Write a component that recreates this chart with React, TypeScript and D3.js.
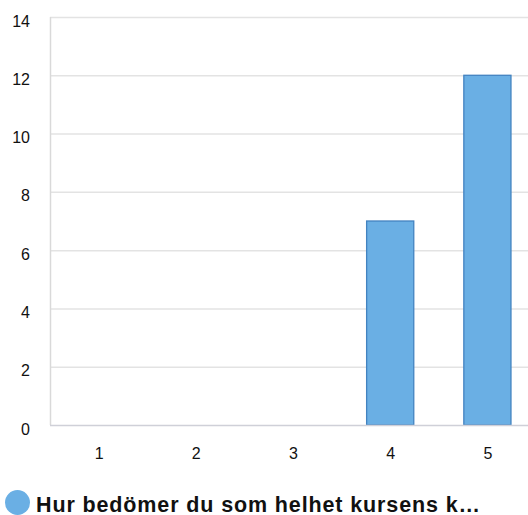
import { useEffect, useRef } from "react";
import * as d3 from "d3";

const categories = ["1", "2", "3", "4", "5"];
const values = [0, 0, 0, 7, 12];
const yTicks = [0, 2, 4, 6, 8, 10, 12, 14];
const seriesName = "Hur bedömer du som helhet kursens k…";

export default function App() {
  const ref = useRef<SVGSVGElement>(null);

  useEffect(() => {
    const svg = d3.select(ref.current);
    svg.selectAll("*").remove();
    const width = 528;
    const height = 515;
    const margin = { top: 17, left: 50, bottom: 90 };

    const x = d3
      .scaleBand()
      .domain(categories)
      .range([margin.left, 536])
      .paddingInner(0.515)
      .paddingOuter(0.2575);

    const y = d3
      .scaleLinear()
      .domain([0, 14])
      .range([height - margin.bottom, margin.top]);

    // gridlines
    svg
      .append("g")
      .selectAll("line")
      .data(yTicks.filter((d) => d > 0))
      .enter()
      .append("line")
      .attr("x1", margin.left)
      .attr("x2", width)
      .attr("y1", (d) => y(d) + 0.5)
      .attr("y2", (d) => y(d) + 0.5)
      .attr("stroke", "#e3e3e3")
      .attr("stroke-width", 1.5);

    // left axis line
    svg
      .append("line")
      .attr("x1", margin.left + 0.5)
      .attr("x2", margin.left + 0.5)
      .attr("y1", y(14))
      .attr("y2", y(0))
      .attr("stroke", "#d9d9d9")
      .attr("stroke-width", 1.5);

    // bars
    svg
      .selectAll(".bar")
      .data(values.map((v, i) => ({ cat: categories[i], v })))
      .enter()
      .filter((d) => d.v > 0)
      .append("rect")
      .attr("x", (d) => x(d.cat)!)
      .attr("y", (d) => y(d.v))
      .attr("width", x.bandwidth())
      .attr("height", (d) => y(0) - y(d.v))
      .attr("fill", "#6aafe4")
      .attr("stroke", "#4383c0")
      .attr("stroke-width", 1.3);

    // bottom axis line
    svg
      .append("line")
      .attr("x1", margin.left)
      .attr("x2", width)
      .attr("y1", y(0) + 0.5)
      .attr("y2", y(0) + 0.5)
      .attr("stroke", "#cfd0d8")
      .attr("stroke-width", 1.5);

    const font = "'Liberation Sans', Arial, sans-serif";

    // y tick labels
    svg
      .append("g")
      .selectAll("text")
      .data(yTicks)
      .enter()
      .append("text")
      .attr("x", 30)
      .attr("y", (d) => y(d) + 9.5)
      .attr("text-anchor", "end")
      .attr("font-family", font)
      .attr("font-size", 16)
      .attr("fill", "#111")
      .text((d) => d);

    // x tick labels
    svg
      .append("g")
      .selectAll("text")
      .data(categories)
      .enter()
      .append("text")
      .attr("x", (d) => x(d)! + x.bandwidth() / 2 + 0.5)
      .attr("y", 458.5)
      .attr("text-anchor", "middle")
      .attr("font-family", font)
      .attr("font-size", 16)
      .attr("fill", "#111")
      .text((d) => d);

    // legend
    svg
      .append("circle")
      .attr("cx", 17.5)
      .attr("cy", 502.5)
      .attr("r", 12.5)
      .attr("fill", "#6aafe4");

    svg
      .append("text")
      .attr("x", 36)
      .attr("y", 512)
      .attr("font-family", font)
      .attr("font-size", 21.5)
      .attr("font-weight", "bold")
      .attr("fill", "#111")
      .attr("textLength", 444)
      .attr("lengthAdjust", "spacing")
      .text(seriesName);

    svg.attr("width", width).attr("height", height);
  }, []);

  return (
    <svg
      ref={ref}
      style={{ position: "absolute", left: 0, top: 0, display: "block" }}
    ></svg>
  );
}
